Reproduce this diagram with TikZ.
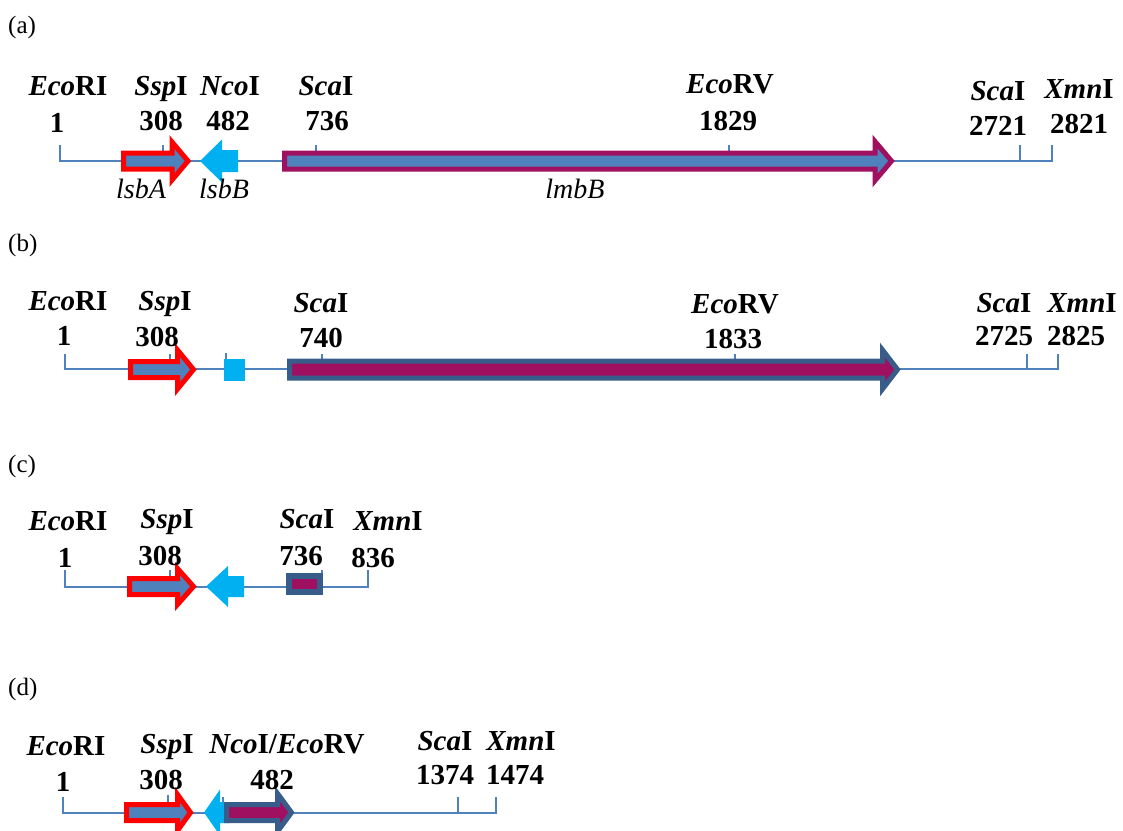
\documentclass[tikz,border=0pt]{standalone}
\usepackage{fontspec}
\setmainfont{Liberation Serif}
\definecolor{lineblue}{RGB}{79,129,189}
\definecolor{geneblue}{RGB}{79,129,189}
\definecolor{genered}{RGB}{255,0,0}
\definecolor{genecyan}{RGB}{0,176,240}
\definecolor{genepurple}{RGB}{160,16,96}
\definecolor{genenavy}{RGB}{56,93,138}
% gene arrow: #1 style, #2 start x, #3 head base x, #4 tip x, #5 centre y, #6 half body, #7 half head
\newcommand\geneshape[7]{%
  \path[#1] (#2,{#5-#6}) -- (#3,{#5-#6}) -- (#3,{#5-#7}) -- (#4,#5)
    -- (#3,{#5+#7}) -- (#3,{#5+#6}) -- (#2,{#5+#6}) -- cycle;}
\begin{document}
\begin{tikzpicture}[x=1pt,y=-1pt,
  bb/.style={draw=lineblue,line width=2pt},
  redgene/.style={draw=genered,fill=geneblue,line width=5pt,line join=miter,miter limit=10},
  lmbgene/.style={draw=genepurple,fill=geneblue,line width=5pt,line join=miter,miter limit=10},
  navygene/.style={draw=genenavy,fill=genepurple,line width=5pt,line join=miter,miter limit=10},
  cyangene/.style={fill=genecyan},
  site/.style={anchor=base,inner sep=0pt,font=\fontsize{29}{30}\selectfont\bfseries},
  gname/.style={anchor=base,inner sep=0pt,font=\fontsize{28}{30}\selectfont\itshape},
  panel/.style={anchor=base west,inner sep=0pt,font=\fontsize{25}{26}\selectfont}]
\useasboundingbox (0,0) rectangle (1123,830);

% ---------------- (a) ----------------
\node[panel] (pa) at (8,33) {(a)};
\draw[bb] (60,145) -- (60,161) -- (1052,161) -- (1052,145);
\draw[bb] (163,145) -- (163,161);
\draw[bb] (316,145) -- (316,161);
\draw[bb] (729,145) -- (729,161);
\draw[bb] (1020,145) -- (1020,161);
\geneshape{redgene}{123.5}{172}{188}{161}{8}{19}
\geneshape{cyangene}{238}{222}{200}{161}{11}{21.5}
\geneshape{lmbgene}{284.5}{875}{891.5}{161}{8}{19.5}
\node[site] (a-eco) at (68,95) {\textit{Eco}RI};
\node[site] (a-eco-n) at (57,132) {1};
\node[site] (a-ssp) at (161,95) {\textit{Ssp}I};
\node[site] (a-ssp-n) at (161,130) {308};
\node[site] (a-nco) at (230,95) {\textit{Nco}I};
\node[site] (a-nco-n) at (228,130) {482};
\node[site] (a-sca1) at (326,95) {\textit{Sca}I};
\node[site] (a-sca1-n) at (327,130) {736};
\node[site] (a-ecv) at (730,93) {\textit{Eco}RV};
\node[site] (a-ecv-n) at (728,130) {1829};
\node[site] (a-sca2) at (998,100) {\textit{Sca}I};
\node[site] (a-sca2-n) at (998,135) {2721};
\node[site] (a-xmn) at (1079,98) {\textit{Xmn}I};
\node[site] (a-xmn-n) at (1079,133) {2821};
\node[gname] (a-lsbA) at (141,198) {lsbA};
\node[gname] (a-lsbB) at (224,198) {lsbB};
\node[gname] (a-lmbB) at (575,198) {lmbB};

% ---------------- (b) ----------------
\node[panel] (pb) at (8,251) {(b)};
\draw[bb] (65,354) -- (65,369) -- (1058,369) -- (1058,354);
\draw[bb] (170,354) -- (170,369);
\draw[bb] (226,353) -- (226,369);
\draw[bb] (322,354) -- (322,369);
\draw[bb] (735,354) -- (735,369);
\draw[bb] (1027,354) -- (1027,369);
\geneshape{redgene}{130.5}{177.5}{193.5}{369.5}{8}{19.5}
\fill[genecyan] (224,359) rectangle (245,381);
\geneshape{navygene}{289.5}{882.5}{897.5}{369.5}{8.5}{19.5}
\node[site] (b-eco) at (68,310) {\textit{Eco}RI};
\node[site] (b-eco-n) at (64,345) {1};
\node[site] (b-ssp) at (165,310) {\textit{Ssp}I};
\node[site] (b-ssp-n) at (157,346) {308};
\node[site] (b-sca1) at (321,312) {\textit{Sca}I};
\node[site] (b-sca1-n) at (321,347) {740};
\node[site] (b-ecv) at (735,313) {\textit{Eco}RV};
\node[site] (b-ecv-n) at (733,348) {1833};
\node[site] (b-sca2) at (1004,312) {\textit{Sca}I};
\node[site] (b-sca2-n) at (1004,345) {2725};
\node[site] (b-xmn) at (1082,312) {\textit{Xmn}I};
\node[site] (b-xmn-n) at (1076,345) {2825};

% ---------------- (c) ----------------
\node[panel] (pc) at (8,472) {(c)};
\draw[bb] (65,570) -- (65,587) -- (368,587) -- (368,570);
\draw[bb] (170,570) -- (170,587);
\draw[bb] (322,570) -- (322,587);
\geneshape{redgene}{129.5}{177.5}{193.5}{586.5}{8}{18}
\geneshape{cyangene}{244}{228}{206}{586.5}{10.5}{20.5}
\draw[draw=genenavy,fill=genepurple,line width=6pt] (289,576) rectangle (320,592);
\node[site] (c-eco) at (68,530) {\textit{Eco}RI};
\node[site] (c-eco-n) at (65,567) {1};
\node[site] (c-ssp) at (167,528) {\textit{Ssp}I};
\node[site] (c-ssp-n) at (160,565) {308};
\node[site] (c-sca) at (307,528) {\textit{Sca}I};
\node[site] (c-sca-n) at (301,565) {736};
\node[site] (c-xmn) at (388,530) {\textit{Xmn}I};
\node[site] (c-xmn-n) at (373,567) {836};

% ---------------- (d) ----------------
\node[panel] (pd) at (8,695) {(d)};
\draw[bb] (63,797) -- (63,813) -- (496,813) -- (496,797);
\draw[bb] (168,795) -- (168,813);
\draw[bb] (223,797) -- (223,813);
\draw[bb] (458,797) -- (458,813);
\geneshape{redgene}{126.5}{177.5}{190.5}{812.5}{8}{18}
\geneshape{cyangene}{230}{220}{204}{812.5}{10.5}{23}
\geneshape{navygene}{226.5}{277.5}{291.5}{812.5}{8}{19}
\node[site] (d-eco) at (66,755) {\textit{Eco}RI};
\node[site] (d-eco-n) at (63,791) {1};
\node[site] (d-ssp) at (167,753) {\textit{Ssp}I};
\node[site] (d-ssp-n) at (161,789) {308};
\node[site] (d-nco) at (287,753) {\textit{Nco}I/\textit{Eco}RV};
\node[site] (d-nco-n) at (272,789) {482};
\node[site] (d-sca) at (445,750) {\textit{Sca}I};
\node[site] (d-sca-n) at (445,784) {1374};
\node[site] (d-xmn) at (521,750) {\textit{Xmn}I};
\node[site] (d-xmn-n) at (515,784) {1474};
\end{tikzpicture}
\end{document}
